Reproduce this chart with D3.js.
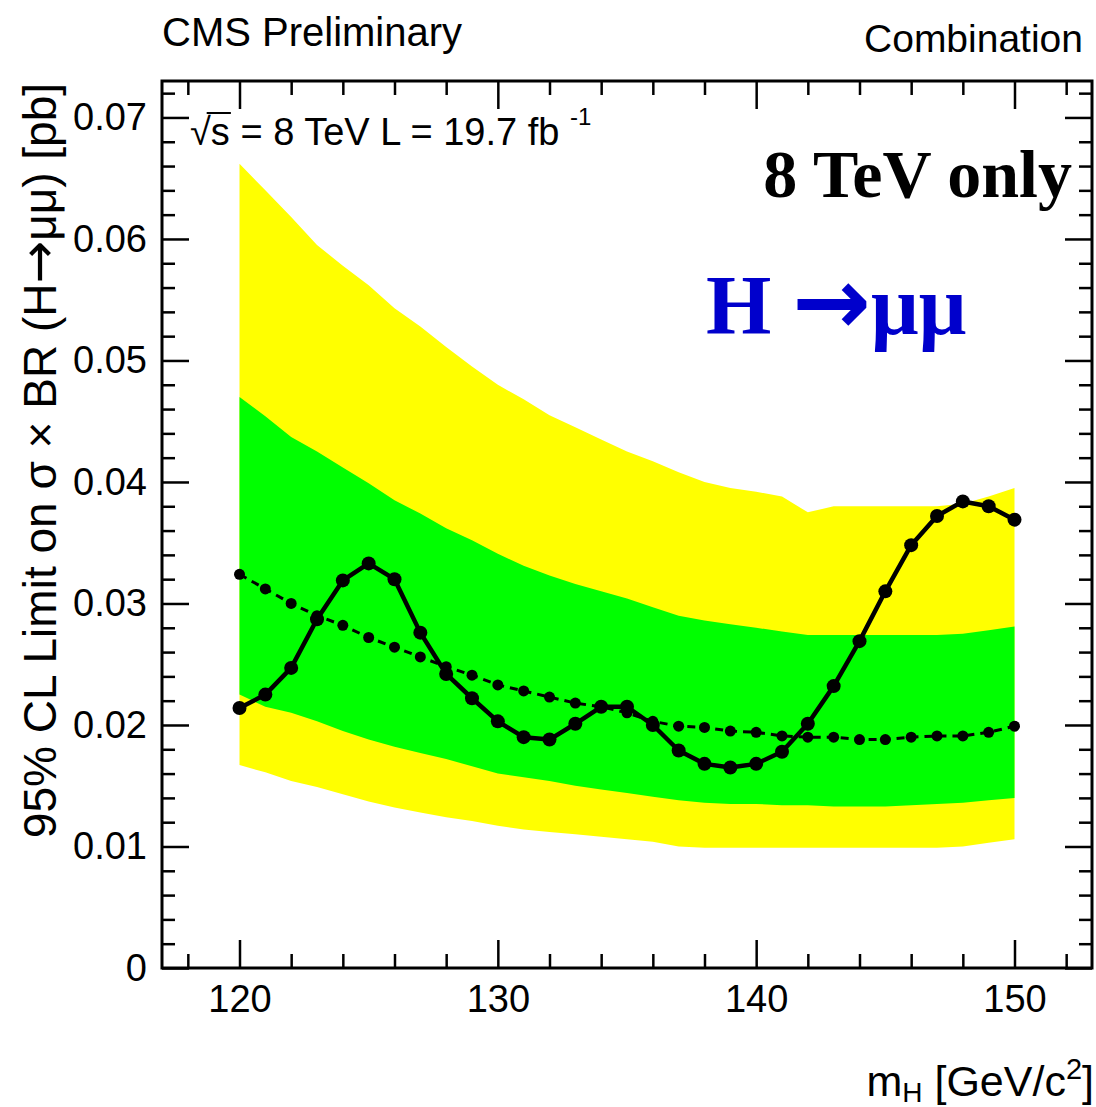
<!DOCTYPE html>
<html>
<head>
<meta charset="utf-8">
<script src="https://cdn.jsdelivr.net/npm/d3@7"></script>
<style>
  html, body { margin: 0; padding: 0; background: #fff; overflow: hidden; }
  svg { display: block; }
</style>
</head>
<body>
<svg id="chart" width="1096" height="1107"></svg>
<script>
// Higgs mass points [GeV]
const masses = [120,121,122,123,124,125,126,127,128,129,130,131,132,133,134,135,
                136,137,138,139,140,141,142,143,144,145,146,147,148,149,150];

// Observed 95% CL upper limit [pb]
const observed = [0.0214,0.0225,0.0247,0.0287,0.0319,0.0333,0.0320,0.0276,0.0242,0.0222,
                  0.0203,0.0190,0.0188,0.0201,0.0215,0.0215,0.0200,0.0179,0.0168,0.0165,
                  0.0168,0.0178,0.0201,0.0232,0.0269,0.0310,0.0348,0.0372,0.0384,0.0380,0.0369];

// Median expected limit [pb]
const expected = [0.0324,0.0312,0.0300,0.0290,0.0282,0.0272,0.0264,0.0256,0.0248,0.0241,
                  0.0233,0.0228,0.0223,0.0218,0.0215,0.0210,0.0203,0.0199,0.0198,0.0195,
                  0.0194,0.0191,0.0190,0.0190,0.0188,0.0188,0.0190,0.0191,0.0191,0.0194,0.0199];

// Expected +/- 1 sigma band edges
const plus1 = [0.0470,0.0454,0.0437,0.0425,0.0412,0.0399,0.0385,0.0374,0.0362,0.0352,
               0.0341,0.0331,0.0323,0.0316,0.0310,0.0304,0.0297,0.0290,0.0286,0.0283,
               0.0280,0.0277,0.0274,0.0274,0.0274,0.0274,0.0274,0.0274,0.0275,0.0278,0.0281];
const minus1 = [0.0225,0.0215,0.0210,0.0203,0.0195,0.0188,0.0182,0.0177,0.0172,0.0166,
                0.0160,0.0157,0.0154,0.0150,0.0147,0.0144,0.0141,0.0138,0.0136,0.0135,
                0.0135,0.0134,0.0134,0.0133,0.0133,0.0133,0.0134,0.0135,0.0136,0.0138,0.0140];

// Expected +/- 2 sigma band edges
const plus2 = [0.0662,0.0640,0.0618,0.0595,0.0578,0.0562,0.0543,0.0528,0.0511,0.0495,
               0.0480,0.0468,0.0455,0.0445,0.0435,0.0425,0.0417,0.0408,0.0400,0.0395,
               0.0392,0.0388,0.0375,0.0380,0.0380,0.0380,0.0380,0.0380,0.0382,0.0388,0.0395];
const minus2 = [0.0167,0.0161,0.0154,0.0149,0.0143,0.0137,0.0132,0.0128,0.0124,0.0121,
                0.0117,0.0114,0.0112,0.0110,0.0108,0.0106,0.0104,0.0100,0.0099,0.0099,
                0.0099,0.0099,0.0099,0.0099,0.0099,0.0099,0.0099,0.0099,0.0100,0.0103,0.0106];

// Axis ticks
const xMajorTicks = [120,130,140,150];
const xMinorTicks = [118,122,124,126,128,132,134,136,138,142,144,146,148,152];
const yMajorTicks = [0,0.01,0.02,0.03,0.04,0.05,0.06,0.07];
const yMinorTicks = [0.002,0.004,0.006,0.008,0.012,0.014,0.016,0.018,0.022,0.024,0.026,0.028,
                     0.032,0.034,0.036,0.038,0.042,0.044,0.046,0.048,0.052,0.054,0.056,0.058,
                     0.062,0.064,0.066,0.068,0.072];

const SANS = "'Liberation Sans', Arial, Helvetica, sans-serif";
const SERIF = "'Liberation Serif', 'Times New Roman', Times, serif";
const ARROW = "'DejaVu Sans', sans-serif";

const svg = d3.select("#chart");
const frame = { left: 162, right: 1092, top: 81, bottom: 968 };

const x = d3.scaleLinear().domain([117, 153]).range([frame.left, frame.right]);
const y = d3.scaleLinear().domain([0, 0.073]).range([frame.bottom, frame.top]);

const rows = masses.map((m, i) => ({
  m, obs: observed[i], exp: expected[i],
  p1: plus1[i], m1: minus1[i], p2: plus2[i], m2: minus2[i]
}));

// Bands
const band = (lo, hi) => d3.area().x(d => x(d.m)).y0(d => y(d[lo])).y1(d => y(d[hi]));
svg.append("path").datum(rows).attr("d", band("m2", "p2")).attr("fill", "#ffff00");
svg.append("path").datum(rows).attr("d", band("m1", "p1")).attr("fill", "#00ff00");

// Expected limit: dashed line with markers
svg.append("path").datum(rows)
  .attr("d", d3.line().x(d => x(d.m)).y(d => y(d.exp)))
  .attr("fill", "none").attr("stroke", "#000").attr("stroke-width", 3)
  .attr("stroke-dasharray", "8,6");
svg.append("g").selectAll("circle").data(rows).join("circle")
  .attr("cx", d => x(d.m)).attr("cy", d => y(d.exp)).attr("r", 5.5).attr("fill", "#000");

// Observed limit: solid line with markers
svg.append("path").datum(rows)
  .attr("d", d3.line().x(d => x(d.m)).y(d => y(d.obs)))
  .attr("fill", "none").attr("stroke", "#000").attr("stroke-width", 4.5)
  .attr("stroke-linejoin", "round");
svg.append("g").selectAll("circle").data(rows).join("circle")
  .attr("cx", d => x(d.m)).attr("cy", d => y(d.obs)).attr("r", 7).attr("fill", "#000");

// Axes: ticks drawn inward on all four sides
function styleAxis(g) {
  g.select(".domain").remove();
  g.selectAll(".tick line").attr("stroke", "#000").attr("stroke-width", 2.5);
  g.selectAll("text").attr("fill", "#000").style("font-family", SANS).style("font-size", "38px");
}

const yFmt = d => d === 0 ? "0" : d3.format(".2f")(d);

svg.append("g").attr("transform", `translate(0,${frame.bottom})`)
  .call(d3.axisBottom(x).tickValues(xMajorTicks).tickSize(-28).tickPadding(17).tickFormat(d3.format("d")))
  .call(styleAxis);
svg.append("g").attr("transform", `translate(0,${frame.bottom})`)
  .call(d3.axisBottom(x).tickValues(xMinorTicks).tickSize(-14).tickFormat(""))
  .call(styleAxis);
svg.append("g").attr("transform", `translate(0,${frame.top})`)
  .call(d3.axisTop(x).tickValues(xMajorTicks).tickSize(-28).tickFormat(""))
  .call(styleAxis);
svg.append("g").attr("transform", `translate(0,${frame.top})`)
  .call(d3.axisTop(x).tickValues(xMinorTicks).tickSize(-14).tickFormat(""))
  .call(styleAxis);

svg.append("g").attr("transform", `translate(${frame.left},0)`)
  .call(d3.axisLeft(y).tickValues(yMajorTicks).tickSize(-27).tickPadding(15).tickFormat(yFmt))
  .call(styleAxis);
svg.append("g").attr("transform", `translate(${frame.left},0)`)
  .call(d3.axisLeft(y).tickValues(yMinorTicks).tickSize(-13).tickFormat(""))
  .call(styleAxis);
svg.append("g").attr("transform", `translate(${frame.right},0)`)
  .call(d3.axisRight(y).tickValues(yMajorTicks).tickSize(-27).tickFormat(""))
  .call(styleAxis);
svg.append("g").attr("transform", `translate(${frame.right},0)`)
  .call(d3.axisRight(y).tickValues(yMinorTicks).tickSize(-13).tickFormat(""))
  .call(styleAxis);

// Frame
svg.append("rect")
  .attr("x", frame.left).attr("y", frame.top)
  .attr("width", frame.right - frame.left).attr("height", frame.bottom - frame.top)
  .attr("fill", "none").attr("stroke", "#000").attr("stroke-width", 3);

// Header texts
svg.append("text").attr("x", 162).attr("y", 46)
  .style("font-family", SANS).style("font-size", "40px").text("CMS Preliminary");
svg.append("text").attr("x", 1083).attr("y", 52).attr("text-anchor", "end")
  .style("font-family", SANS).style("font-size", "39px").text("Combination");

// Energy / luminosity label
const lumi = svg.append("text").attr("x", 190).attr("y", 145)
  .style("font-family", SANS).style("font-size", "38px");
lumi.append("tspan").text("√s = 8 TeV L = 19.7 fb ");
lumi.append("tspan").attr("dy", -20).style("font-size", "24px").text("-1");
{
  const node = lumi.node();
  const wRoot = node.getSubStringLength(0, 1);
  const wS = node.getSubStringLength(1, 1);
  svg.append("line")
    .attr("x1", 190 + wRoot * 0.8).attr("x2", 190 + wRoot + wS + 1)
    .attr("y1", 113).attr("y2", 113)
    .attr("stroke", "#000").attr("stroke-width", 2);
}

// Annotations
svg.append("text").attr("x", 1072).attr("y", 197).attr("text-anchor", "end")
  .style("font-family", SERIF).style("font-weight", "bold").style("font-size", "68px")
  .attr("fill", "#000").text("8 TeV only");
const decay = svg.append("text").attr("x", 706).attr("y", 334)
  .style("font-family", SERIF).style("font-weight", "bold").style("font-size", "84px")
  .attr("fill", "#0000cc");
decay.append("tspan").text("H ");
decay.append("tspan").style("font-family", ARROW).style("font-size", "94px").text("→");
decay.append("tspan").text("μμ");

// Axis titles
const xt = svg.append("text").attr("x", 1094).attr("y", 1096).attr("text-anchor", "end")
  .style("font-family", SANS).style("font-size", "43px");
xt.append("tspan").text("m");
xt.append("tspan").attr("dy", 6).style("font-size", "28px").text("H");
xt.append("tspan").attr("dy", -6).text(" [GeV/c");
xt.append("tspan").attr("dy", -17).style("font-size", "29px").text("2");
xt.append("tspan").attr("dy", 17).text("]");

const yt = svg.append("text")
  .attr("transform", "translate(56,83) rotate(-90)")
  .attr("text-anchor", "end")
  .style("font-family", SANS).style("font-size", "46px");
yt.append("tspan").text("95% CL Limit on σ × BR (H");
yt.append("tspan").style("font-family", ARROW).style("font-size", "51px").text("→");
yt.append("tspan").text("μμ) [pb]");
</script>
</body>
</html>
